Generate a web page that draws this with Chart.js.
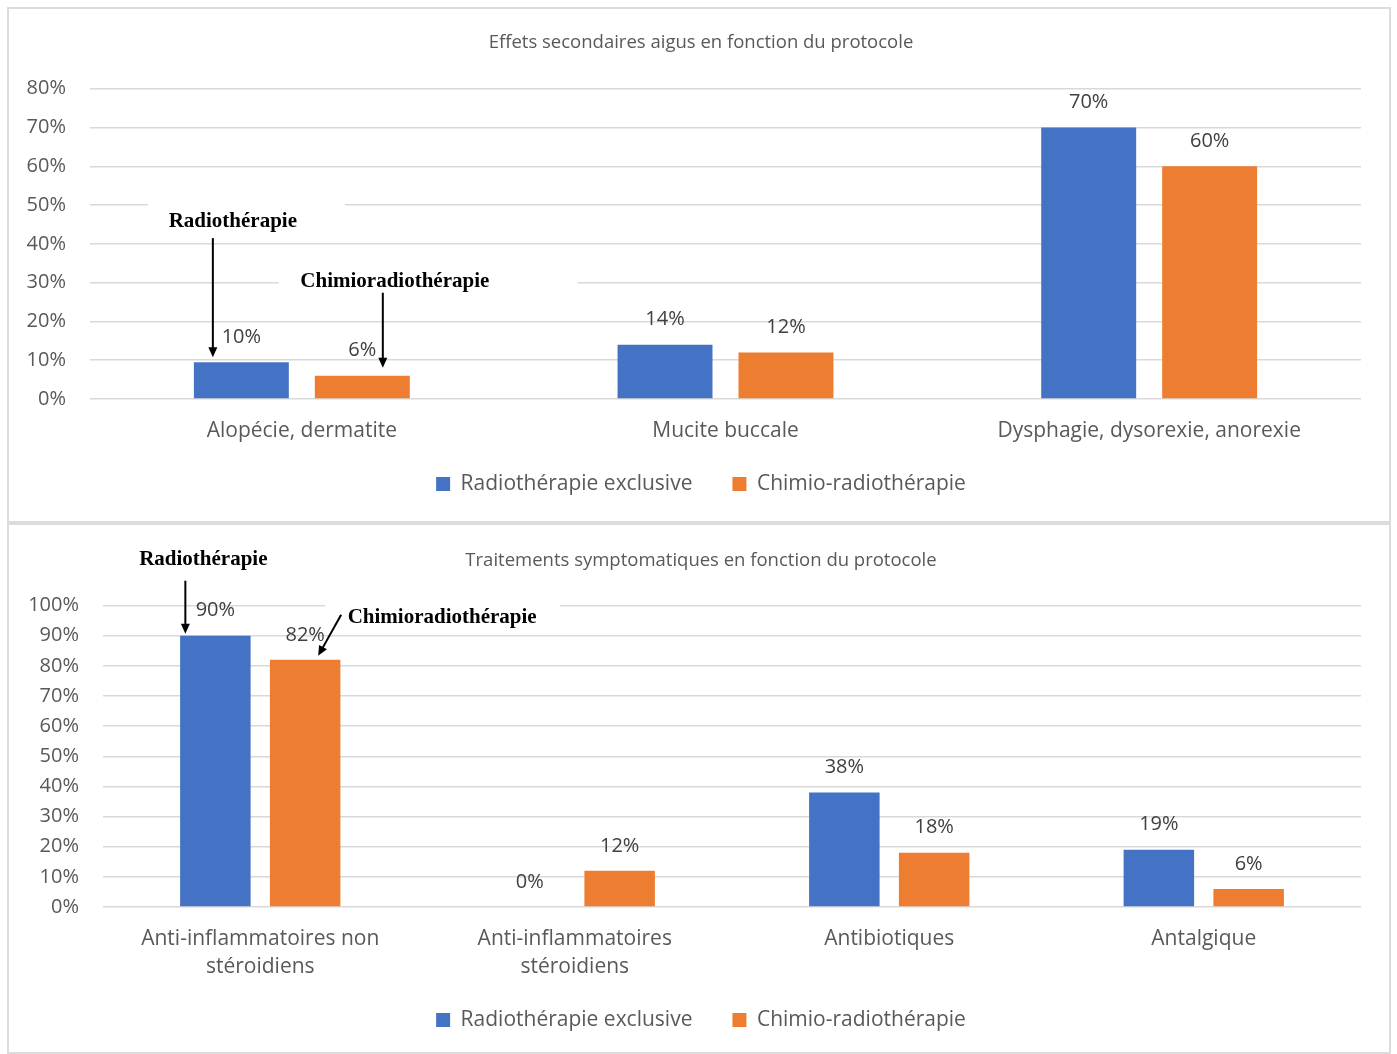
<!DOCTYPE html>
<html>
<head>
<meta charset="utf-8">
<script src="https://cdn.jsdelivr.net/npm/chart.js@4.4.0/dist/chart.umd.min.js"></script>
<style>
  body { margin: 0; background: #fff; }
  .box { position: absolute; left: 7px; width: 1380px; border: 2px solid #dcdcdc; }
  #box1 { top: 7px; height: 512px; }
  #box2 { top: 523px; height: 527px; }
  canvas { display: block; }
</style>
</head>
<body>
<div class="box" id="box1"><canvas id="chart1" width="1380" height="512"></canvas></div>
<div class="box" id="box2"><canvas id="chart2" width="1380" height="527"></canvas></div>
<script>
// données
var title1 = 'Effets secondaires aigus en fonction du protocole',
    categories1 = ['Alopécie, dermatite', 'Mucite buccale', 'Dysphagie, dysorexie, anorexie'],
    radio1 = [9.5, 14, 70],
    chimio1 = [6, 12, 60],
    ticks1 = [0, 10, 20, 30, 40, 50, 60, 70, 80];

var title2 = 'Traitements symptomatiques en fonction du protocole',
    categories2 = [['Anti-inflammatoires non', 'stéroidiens'], ['Anti-inflammatoires', 'stéroidiens'], 'Antibiotiques', 'Antalgique'],
    radio2 = [90, 0, 38, 19],
    chimio2 = [82, 12, 18, 6],
    ticks2 = [0, 10, 20, 30, 40, 50, 60, 70, 80, 90, 100];

var seriesNames = ['Radiothérapie exclusive', 'Chimio-radiothérapie'],
    blue = '#4472C4',
    orange = '#ED7D31',
    grey = '#595959',
    font = "'Open Sans', sans-serif";

// annotations (offsets relative to the top centre of a bar)
var notes1 = [
    {ds: 0, idx: 0, text: 'Radiothérapie', tx: -8.5, ty: -141, arrow: [-28.5, -124, -28.5, -5], box: [-93.5, -167, 103.5, -127]},
    {ds: 1, idx: 0, text: 'Chimioradiothérapie', tx: 32.5, ty: -94, arrow: [20.5, -83, 20.5, -8], box: [-83.5, -114, 215.5, -80]}
];
var notes2 = [
    {ds: 0, idx: 0, text: 'Radiothérapie', tx: -12, ty: -76, arrow: [-30, -55, -30, -2]},
    {ds: 1, idx: 0, text: 'Chimioradiothérapie', tx: 137, ty: -42, arrow: [36, -45, 13, -4], box: [20, -63, 255, -30]}
];

var labelsPlugin = {
    id: 'labelsPlugin',
    afterDatasetsDraw: function(chart) {
        var ctx = chart.ctx,
            notes = chart.options.plugins.labelsPlugin.notes;
        ctx.save();
        // white text boxes
        notes.forEach(function(n) {
            if (!n.box) return;
            var bar = chart.getDatasetMeta(n.ds).data[n.idx];
            ctx.fillStyle = '#fff';
            ctx.fillRect(bar.x + n.box[0], bar.y + n.box[1], n.box[2] - n.box[0], n.box[3] - n.box[1]);
        });
        // value labels
        ctx.font = '20px ' + font;
        ctx.fillStyle = '#404040';
        ctx.textAlign = 'center';
        ctx.textBaseline = 'middle';
        chart.data.datasets.forEach(function(ds, i) {
            chart.getDatasetMeta(i).data.forEach(function(bar, j) {
                ctx.fillText(Math.round(ds.data[j]) + '%', bar.x, bar.y - 25);
            });
        });
        // annotation texts and arrows
        notes.forEach(function(n) {
            var bar = chart.getDatasetMeta(n.ds).data[n.idx],
                a = n.arrow,
                x1 = bar.x + a[0], y1 = bar.y + a[1],
                x2 = bar.x + a[2], y2 = bar.y + a[3],
                ang = Math.atan2(y2 - y1, x2 - x1);
            ctx.fillStyle = '#000';
            ctx.font = "bold 21px 'Liberation Serif', 'Times New Roman', serif";
            ctx.fillText(n.text, bar.x + n.tx, bar.y + n.ty);
            ctx.strokeStyle = '#000';
            ctx.lineWidth = 2;
            ctx.beginPath();
            ctx.moveTo(x1, y1);
            ctx.lineTo(x2 - 8 * Math.cos(ang), y2 - 8 * Math.sin(ang));
            ctx.stroke();
            ctx.beginPath();
            ctx.moveTo(x2, y2);
            ctx.lineTo(x2 - 10 * Math.cos(ang) + 4.5 * Math.sin(ang), y2 - 10 * Math.sin(ang) - 4.5 * Math.cos(ang));
            ctx.lineTo(x2 - 10 * Math.cos(ang) - 4.5 * Math.sin(ang), y2 - 10 * Math.sin(ang) + 4.5 * Math.cos(ang));
            ctx.closePath();
            ctx.fill();
        });
        ctx.restore();
    }
};

function makeChart(id, title, categories, radio, chimio, ticks, s) {
    return new Chart(document.getElementById(id), {
        type: 'bar',
        data: {
            labels: categories,
            datasets: [
                {label: seriesNames[0], data: radio, backgroundColor: blue},
                {label: seriesNames[1], data: chimio, backgroundColor: orange}
            ]
        },
        options: {
            responsive: false,
            animation: false,
            categoryPercentage: 0.571,
            barPercentage: 0.785,
            layout: {padding: {left: 4, right: 0, top: 0, bottom: s.padBottom}},
            plugins: {
                title: {
                    display: true,
                    text: title,
                    color: grey,
                    font: {family: font, size: 18.5, weight: 'normal', lineHeight: 1.2},
                    padding: {top: s.titleTop, bottom: s.titleBottom}
                },
                legend: {
                    position: 'bottom',
                    labels: {
                        color: grey,
                        boxWidth: 14,
                        boxHeight: 14,
                        padding: 40,
                        font: {family: font, size: 21}
                    }
                },
                tooltip: {enabled: false},
                labelsPlugin: {notes: s.notes}
            },
            scales: {
                x: {
                    grid: {display: false, drawTicks: false},
                    border: {display: false},
                    ticks: {
                        color: grey,
                        mirror: true,
                        padding: -46,
                        maxRotation: 0,
                        autoSkip: false,
                        font: {family: font, size: 21, lineHeight: 1.333}
                    },
                    afterFit: function(scale) { scale.height = s.xHeight; }
                },
                y: {
                    min: ticks[0],
                    max: ticks[ticks.length - 1],
                    afterBuildTicks: function(scale) {
                        scale.ticks = ticks.map(function(v) { return {value: v}; });
                    },
                    grid: {color: '#d9d9d9', lineWidth: 1.4, drawTicks: false},
                    border: {display: false},
                    ticks: {
                        color: grey,
                        padding: 24,
                        font: {family: font, size: 20},
                        callback: function(v) { return v + '%'; }
                    },
                    afterFit: function(scale) { scale.width = s.yWidth - 4; }
                },
                yRight: {
                    position: 'right',
                    grid: {display: false, drawTicks: false},
                    border: {display: false},
                    ticks: {display: false},
                    afterFit: function(scale) { scale.width = 28; }
                }
            }
        },
        plugins: [labelsPlugin]
    });
}

var chart1 = makeChart('chart1', title1, categories1, radio1, chimio1, ticks1,
    {padBottom: 16.5, titleTop: 23, titleBottom: 34.4, xHeight: 34.5, yWidth: 81, notes: notes1});
var chart2 = makeChart('chart2', title2, categories2, radio2, chimio2, ticks2,
    {padBottom: 11.5, titleTop: 25, titleBottom: 33.4, xHeight: 62.5, yWidth: 94, notes: notes2});
</script>
</body>
</html>
